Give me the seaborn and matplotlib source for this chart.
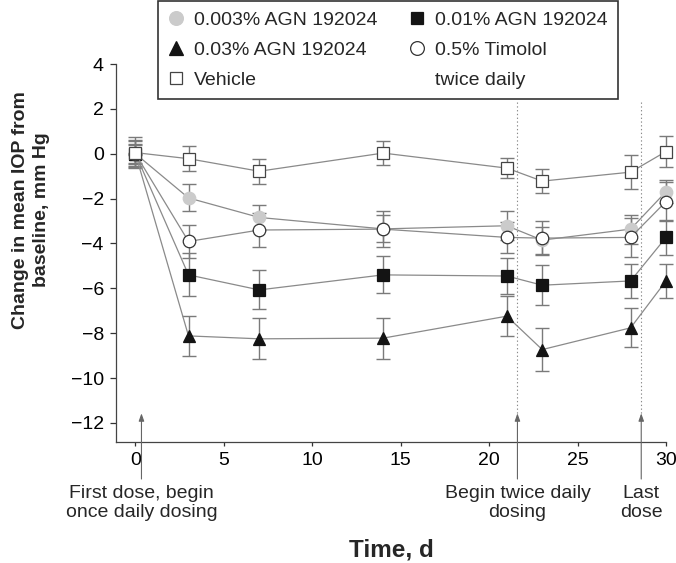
import numpy as np
import pandas as pd
import matplotlib
matplotlib.use("Agg")
import matplotlib.pyplot as plt
import seaborn as sns
from matplotlib.lines import Line2D
from matplotlib import font_manager

# Data (mean change from baseline and SE, mm Hg)
days = [0, 3, 7, 14, 21, 23, 28, 30]

agn003 = [0.0, -1.97, -2.84, -3.35, -3.21, -3.85, -3.36, -1.69]
agn003_se = [0.55, 0.60, 0.55, 0.60, 0.65, 0.60, 0.65, 0.50]
agn01 = [0.0, -5.40, -6.07, -5.40, -5.45, -5.86, -5.67, -3.73]
agn01_se = [0.45, 0.96, 0.87, 0.82, 0.80, 0.88, 0.75, 0.78]
agn03 = [0.0, -8.12, -8.25, -8.22, -7.24, -8.73, -7.76, -5.67]
agn03_se = [0.40, 0.90, 0.91, 0.92, 0.90, 0.97, 0.87, 0.75]
timolol = [0.0, -3.91, -3.40, -3.36, -3.73, -3.76, -3.73, -2.13]
timolol_se = [0.60, 0.75, 0.75, 0.80, 0.70, 0.76, 0.87, 0.86]
vehicle = [0.05, -0.22, -0.78, 0.03, -0.64, -1.22, -0.82, 0.10]
vehicle_se = [0.68, 0.57, 0.56, 0.53, 0.43, 0.52, 0.75, 0.67]

labels = ["0.003% AGN 192024", "0.01% AGN 192024", "0.03% AGN 192024",
          "0.5% Timolol", "Vehicle"]

# dosing events
event_days = [0.34, 21.6, 28.6]
event_labels = ["First dose, begin\nonce daily dosing", "Begin twice daily\ndosing", "Last\ndose"]

x_ticks = [0, 5, 10, 15, 20, 25, 30]
y_ticks = [-12, -10, -8, -6, -4, -2, 0, 2, 4]

sns.set_style("ticks")
names = {f.name for f in font_manager.fontManager.ttflist}
base_font = "Liberation Sans" if "Liberation Sans" in names else "DejaVu Sans"
plt.rcParams["font.family"] = [base_font, "DejaVu Sans"]

df = pd.DataFrame({
    "day": days * 5,
    "change": agn003 + agn01 + agn03 + timolol + vehicle,
    "se": agn003_se + agn01_se + agn03_se + timolol_se + vehicle_se,
    "group": np.repeat(labels, len(days)),
})

styles = {
    "0.003% AGN 192024": dict(marker="o", mfc="#cbcbcb", mec="#cbcbcb", ms=9),
    "0.01% AGN 192024": dict(marker="s", mfc="#141414", mec="#141414", ms=8.3),
    "0.03% AGN 192024": dict(marker="^", mfc="#141414", mec="#141414", ms=9),
    "0.5% Timolol": dict(marker="o", mfc="white", mec="#333333", ms=9),
    "Vehicle": dict(marker="s", mfc="white", mec="#444444", ms=8.3),
}

fig = plt.figure(figsize=(6.76, 5.63), dpi=100)
ax = fig.add_axes([0.1716, 0.2149, 0.8136, 0.6714])

line_col = "#8a8a8a"
err_col = "#7a7a7a"

for g in labels:
    sub = df[df["group"] == g]
    ax.errorbar(sub["day"], sub["change"], yerr=sub["se"], fmt="none",
                ecolor=err_col, elinewidth=1.0, capsize=5.2, capthick=1.0,
                zorder=1.5, clip_on=False)

for g in labels:
    sub = df[df["group"] == g]
    st = styles[g]
    sns.lineplot(data=sub, x="day", y="change", ax=ax, color=line_col,
                 linewidth=0.9, marker=st["marker"], markersize=st["ms"],
                 markerfacecolor=st["mfc"], markeredgecolor=st["mec"],
                 markeredgewidth=0.9, errorbar=None, legend=False,
                 clip_on=False, zorder=3)

ax.set_xlim(-1.1, 30)
ax.set_ylim(-12.85, 4)
ax.set_xticks(x_ticks)
ax.set_yticks(y_ticks)
ax.tick_params(axis="both", labelsize=14, colors="#333333", labelcolor="black", width=0.9)
ax.tick_params(axis="x", length=3.2, pad=4)
ax.tick_params(axis="y", length=4.3, pad=4.5)
for s in ["top", "right"]:
    ax.spines[s].set_visible(False)
for s in ["left", "bottom"]:
    ax.spines[s].set_color("#444444")
    ax.spines[s].set_linewidth(0.9)
ax.set_xlabel("")
ax.set_ylabel("")

# dosing markers: dotted guide + arrow from below the axis
for i, (d, txt) in enumerate(zip(event_days, event_labels)):
    if i > 0:
        ax.plot([d, d], [2.3, -11.6], color="#8a8a8a", lw=0.8,
                dashes=(1.2, 2.2), zorder=1)
    ax.annotate("", xy=(d, -11.57), xytext=(d, -14.5),
                arrowprops=dict(arrowstyle="-|>,head_length=0.45,head_width=0.16",
                                color="#666666", lw=0.8, shrinkA=0, shrinkB=0),
                annotation_clip=False)
    ax.text(d, -14.75, txt, ha="center", va="top", fontsize=14,
            linespacing=1.2, clip_on=False)

fig.text(391 / 676, 1 - 538 / 563, "Time, d", ha="center", va="top",
         fontsize=17.5, fontweight="bold")
fig.text(31 / 676, 1 - 210 / 563, "Change in mean IOP from\nbaseline, mm Hg",
         rotation=90, ha="center", va="center", multialignment="center",
         fontsize=14, fontweight="bold", linespacing=1.3)

# legend: column-major fill, 3 rows x 2 columns
def handle(g):
    st = styles[g]
    return Line2D([], [], linestyle="none", marker=st["marker"], markersize=st["ms"],
                  markerfacecolor=st["mfc"], markeredgecolor=st["mec"], markeredgewidth=0.9)

handles = [handle(labels[0]), handle(labels[2]), handle(labels[4]),
           handle(labels[1]), handle(labels[3]), Line2D([], [], linestyle="none")]
leg_labels = [labels[0], labels[2], labels[4], labels[1], labels[3], "twice daily"]
leg = fig.legend(handles, leg_labels, loc="upper left",
                 bbox_to_anchor=(158 / 676, 1 - 1 / 563), ncol=2, fontsize=14,
                 frameon=True, fancybox=False, framealpha=1, borderaxespad=0,
                 borderpad=0.55, handlelength=0.8, handletextpad=0.5,
                 columnspacing=1.65, labelspacing=0.62, markerscale=1.1)
leg.get_frame().set_edgecolor("#333333")
leg.get_frame().set_linewidth(1.2)
leg.set_zorder(10)

fig.savefig("out.png", dpi=100)
